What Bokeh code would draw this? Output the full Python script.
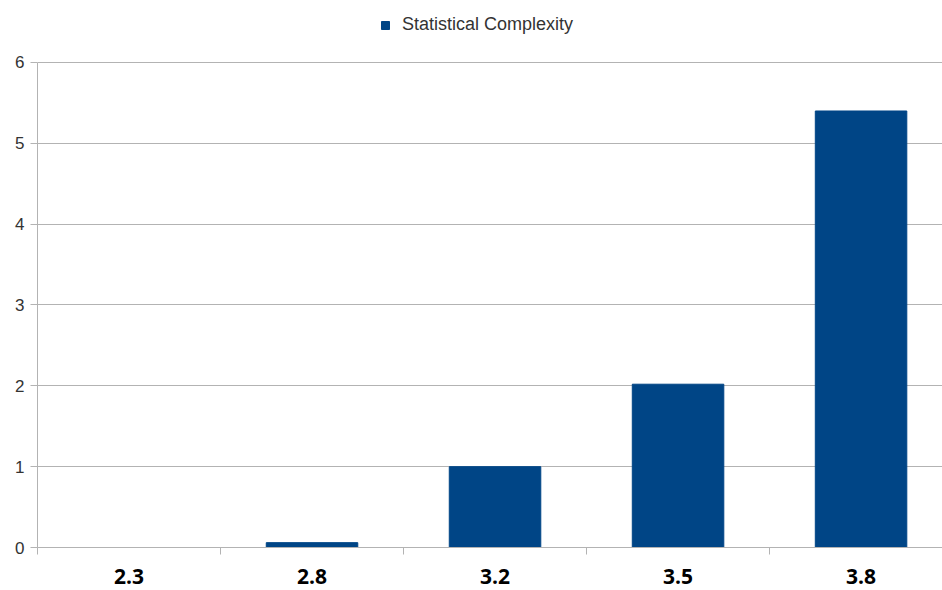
from bokeh.plotting import figure
from bokeh.models import ColumnDataSource, Range1d, FixedTicker, Legend, LegendItem
from bokeh.embed import file_html
from bokeh.resources import INLINE

categories = ["2.3", "2.8", "3.2", "3.5", "3.8"]
complexity = [0.0, 0.06, 1.0, 2.02, 5.4]
y_ticks = [0, 1, 2, 3, 4, 5, 6]

xpos = list(range(len(categories)))
src = ColumnDataSource(dict(x=xpos, top=complexity, label=categories))

# frame spans full height above the x axis; value axis is bounded to 0..6
p = figure(width=942, height=590, output_backend="svg", toolbar_location=None,
           x_range=Range1d(-0.5, 4.445), y_range=Range1d(0, 6.767))
p.min_border_left = 37
p.min_border_right = 0
p.min_border_bottom = 43
p.min_border_top = 0
p.outline_line_color = None
p.background_fill_color = "white"
p.border_fill_color = "white"

r = p.vbar(x="x", top="top", width=0.5, source=src, fill_color="#004586",
           line_color="#004586")

# x axis
p.xaxis.ticker = FixedTicker(ticks=xpos, minor_ticks=[-0.5, 0.5, 1.5, 2.5, 3.5, 4.5])
p.xaxis.major_label_overrides = {i: c for i, c in enumerate(categories)}
p.xaxis.major_tick_line_color = None
p.xaxis.minor_tick_out = 7
p.xaxis.minor_tick_in = 0
p.xaxis.minor_tick_line_color = "#b3b3b3"
p.xaxis.axis_line_color = "#b3b3b3"
p.xaxis.major_label_text_font = "Open Sans"
p.xaxis.major_label_text_font_style = "bold"
p.xaxis.major_label_text_font_size = "21px"
p.xaxis.major_label_text_color = "#000000"
p.xaxis.major_label_standoff = 14
p.xgrid.grid_line_color = None

# y axis
p.yaxis.ticker = FixedTicker(ticks=y_ticks, minor_ticks=[])
p.yaxis.bounds = (0, 6)
p.yaxis.major_tick_out = 7
p.yaxis.major_tick_in = 0
p.yaxis.major_tick_line_color = "#b3b3b3"
p.yaxis.axis_line_color = "#b3b3b3"
p.yaxis.minor_tick_line_color = None
p.yaxis.major_label_text_font = "Liberation Sans"
p.yaxis.major_label_text_font_size = "17px"
p.yaxis.major_label_text_color = "#333333"
p.yaxis.major_label_standoff = 6
p.ygrid.grid_line_color = "#b3b3b3"
p.ygrid.ticker = FixedTicker(ticks=y_ticks)

legend = Legend(items=[LegendItem(label="Statistical Complexity", renderers=[r])],
                orientation="horizontal", location=(343, 512),
                label_text_font="Liberation Sans", label_text_font_size="18px",
                label_text_color="#333333", glyph_width=10, glyph_height=10,
                border_line_color=None, background_fill_alpha=0,
                padding=5, margin=0, label_standoff=12)
p.add_layout(legend)

open("out.html", "w").write(file_html(p, INLINE))
